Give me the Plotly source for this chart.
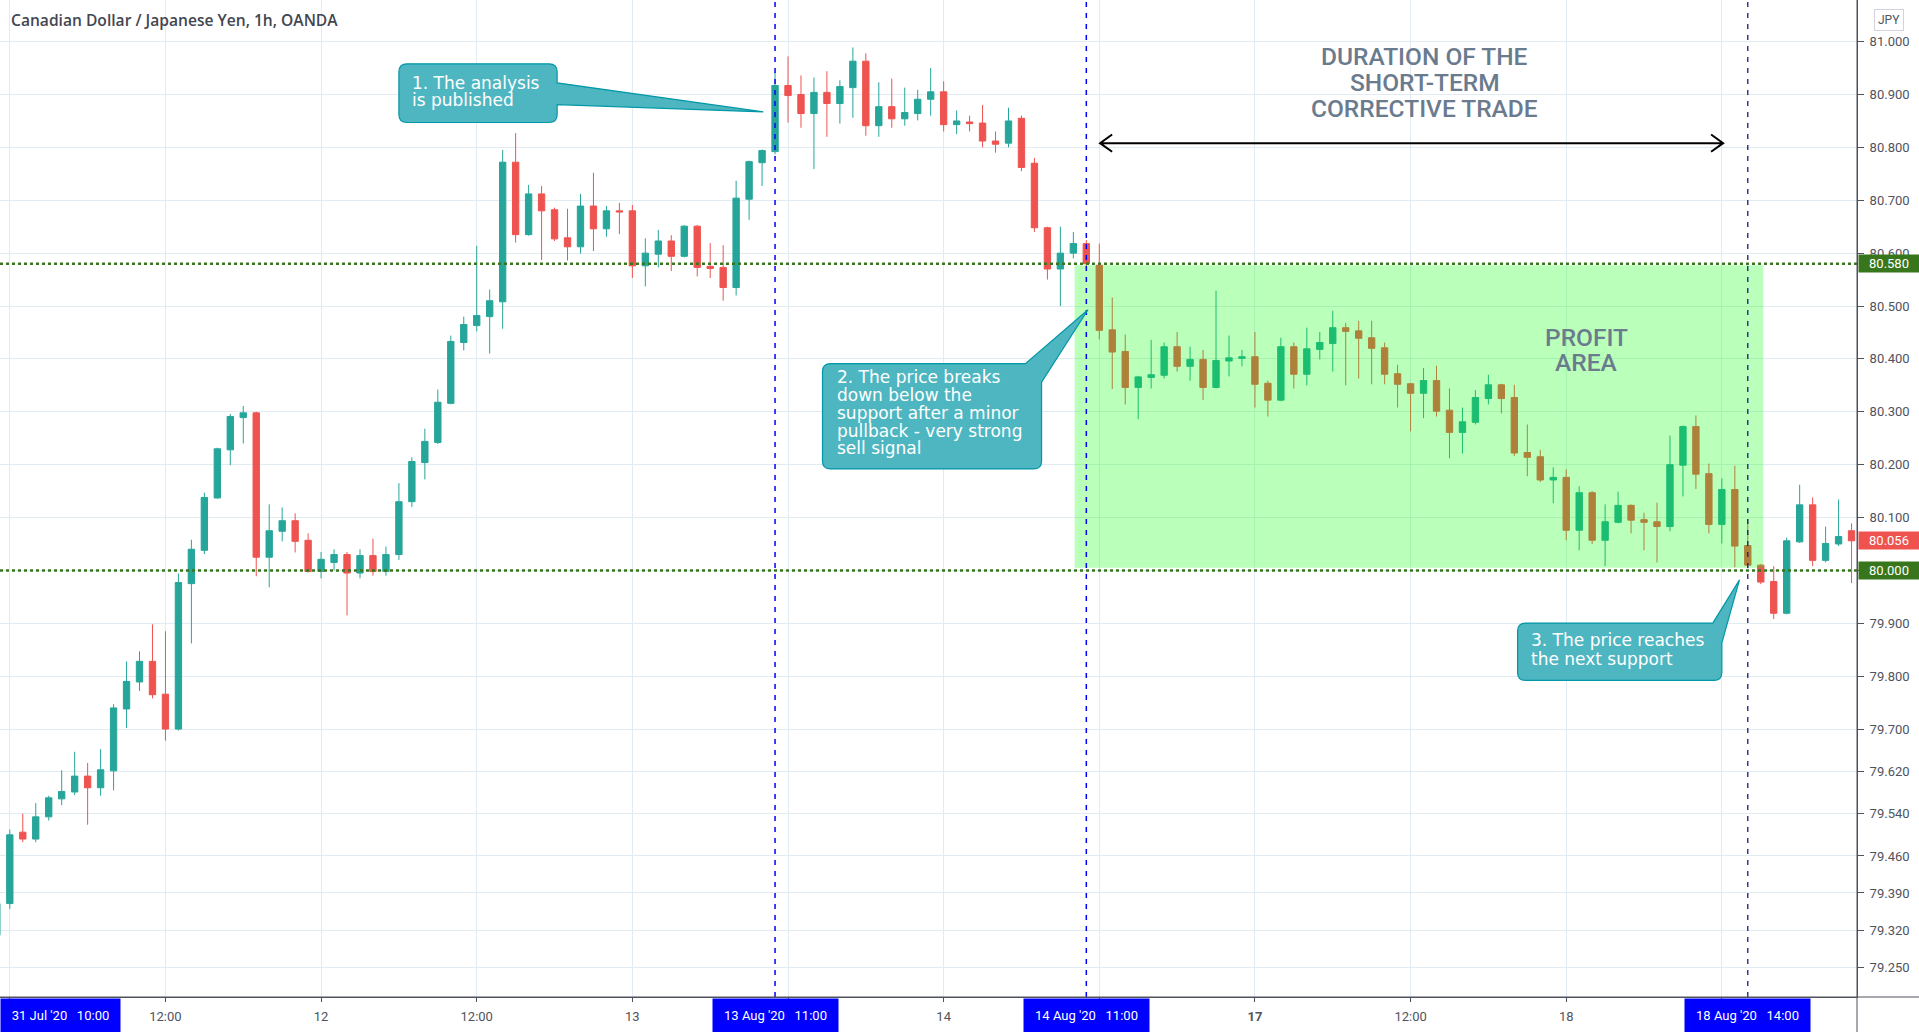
import plotly.graph_objects as go

# ---------------- data (1h candles, index = trading hour from 11 Aug 00:00) ----------------
hours = list(range(-1, 143))

opens = [79.310, 79.370, 79.505, 79.492, 79.534, 79.568, 79.581, 79.611, 79.589, 79.621,
         79.738, 79.789, 79.828, 79.766, 79.700, 79.975, 80.038, 80.137, 80.228, 80.289,
         80.298, 80.025, 80.074, 80.094, 80.057, 79.998, 80.015, 80.030, 79.995, 80.028,
         79.998, 80.030, 80.130, 80.204, 80.242, 80.316, 80.431, 80.463, 80.480, 80.508,
         80.772, 80.635, 80.712, 80.682, 80.629, 80.612, 80.689, 80.646, 80.680, 80.680,
         80.576, 80.598, 80.623, 80.594, 80.651, 80.575, 80.573, 80.535, 80.702, 80.771,
         80.792, 80.917, 80.900, 80.864, 80.904, 80.883, 80.913, 80.963, 80.841, 80.877,
         80.854, 80.864, 80.891, 80.905, 80.843, 80.848, 80.846, 80.812, 80.808, 80.855,
         80.770, 80.648, 80.570, 80.600, 80.618, 80.577, 80.455, 80.414, 80.346, 80.365,
         80.369, 80.423, 80.386, 80.399, 80.346, 80.396, 80.401, 80.404, 80.354, 80.322,
         80.423, 80.371, 80.418, 80.429, 80.459, 80.453, 80.440, 80.421, 80.372, 80.353,
         80.335, 80.359, 80.303, 80.261, 80.280, 80.325, 80.351, 80.327, 80.223, 80.215,
         80.171, 80.176, 80.076, 80.147, 80.057, 80.091, 80.123, 80.096, 80.092, 80.083,
         80.199, 80.272, 80.183, 80.087, 80.153, 80.047, 80.010, 79.979, 79.919, 80.054,
         80.124, 80.019, 80.050, 80.075]

highs = [79.380, 79.510, 79.540, 79.560, 79.574, 79.622, 79.657, 79.636, 79.662, 79.747,
         79.828, 79.847, 79.898, 79.885, 79.994, 80.058, 80.147, 80.232, 80.296, 80.311,
         80.300, 80.125, 80.119, 80.108, 80.070, 80.035, 80.040, 80.035, 80.040, 80.060,
         80.045, 80.165, 80.214, 80.268, 80.342, 80.444, 80.480, 80.614, 80.531, 80.795,
         80.827, 80.729, 80.727, 80.686, 80.684, 80.712, 80.752, 80.689, 80.695, 80.691,
         80.628, 80.644, 80.634, 80.653, 80.653, 80.619, 80.615, 80.737, 80.775, 80.796,
         80.942, 80.972, 80.936, 80.932, 80.944, 80.927, 80.989, 80.978, 80.923, 80.930,
         80.913, 80.909, 80.950, 80.925, 80.870, 80.860, 80.880, 80.830, 80.875, 80.860,
         80.780, 80.650, 80.650, 80.640, 80.625, 80.618, 80.516, 80.446, 80.368, 80.436,
         80.431, 80.451, 80.423, 80.417, 80.529, 80.444, 80.417, 80.451, 80.359, 80.440,
         80.431, 80.459, 80.451, 80.491, 80.468, 80.472, 80.472, 80.431, 80.389, 80.355,
         80.383, 80.387, 80.344, 80.308, 80.341, 80.370, 80.353, 80.351, 80.276, 80.228,
         80.195, 80.191, 80.159, 80.150, 80.125, 80.149, 80.125, 80.109, 80.128, 80.255,
         80.274, 80.293, 80.202, 80.174, 80.198, 80.097, 80.012, 80.008, 80.062, 80.162,
         80.138, 80.083, 80.134, 80.089]

lows = [79.290, 79.360, 79.486, 79.486, 79.527, 79.556, 79.575, 79.519, 79.574, 79.584,
        79.702, 79.772, 79.758, 79.678, 79.697, 79.862, 80.031, 80.136, 80.199, 80.240,
        79.989, 79.968, 80.055, 80.034, 79.996, 79.985, 80.000, 79.915, 79.985, 79.990,
        79.990, 80.020, 80.120, 80.172, 80.239, 80.314, 80.416, 80.452, 80.410, 80.457,
        80.620, 80.633, 80.587, 80.623, 80.586, 80.599, 80.604, 80.631, 80.636, 80.553,
        80.537, 80.573, 80.566, 80.592, 80.556, 80.553, 80.510, 80.520, 80.663, 80.727,
        80.787, 80.847, 80.837, 80.759, 80.820, 80.845, 80.856, 80.822, 80.820, 80.837,
        80.841, 80.851, 80.860, 80.830, 80.825, 80.830, 80.800, 80.790, 80.800, 80.755,
        80.640, 80.550, 80.500, 80.590, 80.570, 80.437, 80.343, 80.314, 80.286, 80.344,
        80.363, 80.376, 80.359, 80.322, 80.344, 80.367, 80.386, 80.308, 80.291, 80.320,
        80.344, 80.350, 80.399, 80.376, 80.350, 80.363, 80.352, 80.352, 80.308, 80.263,
        80.288, 80.291, 80.212, 80.221, 80.276, 80.314, 80.297, 80.216, 80.178, 80.167,
        80.127, 80.057, 80.038, 80.050, 80.008, 80.089, 80.070, 80.038, 80.015, 80.074,
        80.140, 80.154, 80.070, 80.051, 80.006, 80.004, 79.974, 79.908, 79.917, 80.052,
        80.008, 80.015, 80.046, 79.976]

closes = [79.370, 79.500, 79.492, 79.534, 79.570, 79.582, 79.611, 79.589, 79.623, 79.740,
          79.790, 79.828, 79.765, 79.700, 79.977, 80.040, 80.138, 80.230, 80.291, 80.298,
          80.025, 80.075, 80.094, 80.055, 79.998, 80.021, 80.030, 79.995, 80.028, 79.998,
          80.030, 80.130, 80.206, 80.244, 80.318, 80.433, 80.465, 80.482, 80.510, 80.772,
          80.635, 80.712, 80.680, 80.627, 80.612, 80.689, 80.646, 80.680, 80.678, 80.576,
          80.600, 80.623, 80.594, 80.651, 80.573, 80.571, 80.535, 80.704, 80.773, 80.794,
          80.917, 80.898, 80.864, 80.904, 80.883, 80.915, 80.963, 80.841, 80.877, 80.854,
          80.866, 80.891, 80.905, 80.843, 80.850, 80.845, 80.812, 80.806, 80.850, 80.762,
          80.648, 80.570, 80.600, 80.618, 80.580, 80.454, 80.413, 80.346, 80.366, 80.370,
          80.423, 80.386, 80.399, 80.346, 80.397, 80.402, 80.404, 80.352, 80.322, 80.423,
          80.371, 80.419, 80.431, 80.459, 80.452, 80.439, 80.420, 80.371, 80.352, 80.335,
          80.359, 80.301, 80.261, 80.281, 80.327, 80.351, 80.325, 80.222, 80.214, 80.171,
          80.176, 80.076, 80.147, 80.057, 80.092, 80.123, 80.095, 80.091, 80.083, 80.200,
          80.272, 80.182, 80.087, 80.153, 80.046, 80.010, 79.978, 79.919, 80.056, 80.124,
          80.019, 80.051, 80.064, 80.056]

# time axis (gridlines every 12 trading hours; labels under the event boxes are hidden)
time_tick_hours = [0, 12, 24, 36, 48, 60, 72, 84, 96, 108, 120, 132]
time_tick_labels = ["", "12:00", "12", "12:00", "13", "", "14", "",
                    "<b>17</b>", "12:00", "18", ""]

# price axis ticks
price_ticks = [81.0, 80.9, 80.8, 80.7, 80.6, 80.5, 80.4, 80.3, 80.2, 80.1, 80.0,
               79.9, 79.8, 79.7, 79.62, 79.54, 79.46, 79.39, 79.32, 79.25]
price_tick_labels = ["81.000", "80.900", "80.800", "80.700", "80.600", "80.500", "80.400",
                     "80.300", "80.200", "80.100", "", "79.900", "79.800", "79.700",
                     "79.620", "79.540", "79.460", "79.390", "79.320", "79.250"]

# key levels / events
support_levels = [80.58, 80.00]
last_price = 80.056
event_hours = [59, 83, 134]
event_labels = ["13 Aug '20\u00a0\u00a0\u00a011:00", "14 Aug '20\u00a0\u00a0\u00a011:00",
                "18 Aug '20\u00a0\u00a0\u00a014:00"]
left_label = "31 Jul '20\u00a0\u00a0\u00a010:00"

# ---------------- styling ----------------
GRID = "#e1ecf2"
AXIS = "#4f525c"
TXT = "#50535e"
UP = "#26a69a"
DOWN = "#ef5350"
LEVEL = "#38761d"
CALL_FILL = "#4db6c1"
CALL_LINE = "#0097a7"
NOTE = "#6b7b8e"

fig = go.Figure()
fig.add_trace(go.Candlestick(
    x=hours, open=opens, high=highs, low=lows, close=closes,
    increasing=dict(line=dict(color=UP, width=1), fillcolor=UP),
    decreasing=dict(line=dict(color=DOWN, width=1), fillcolor=DOWN),
    hoverinfo="skip", showlegend=False,
))


def rounded_poly(verts, rx, ry):
    n = len(verts)
    parts = []
    for i, (x, y, r) in enumerate(verts):
        px, py, _ = verts[i - 1]
        nx, ny, _ = verts[(i + 1) % n]
        if r:
            def off(ax, ay):
                dx, dy = ax - x, ay - y
                if abs(dy) < 1e-9:
                    return (x + rx * (1 if dx > 0 else -1), y)
                return (x, y + ry * (1 if dy > 0 else -1))
            a = off(px, py)
            b = off(nx, ny)
            parts.append(("L", a))
            parts.append(("Q", (x, y), b))
        else:
            parts.append(("L", (x, y)))
    s = ""
    for k, p in enumerate(parts):
        if p[0] == "L":
            s += ("M" if k == 0 else " L") + f"{p[1][0]:.4f},{p[1][1]:.5f}"
        else:
            s += f" Q{p[1][0]:.4f},{p[1][1]:.5f} {p[2][0]:.4f},{p[2][1]:.5f}"
    return s + " Z"


RX, RY = 0.62, 0.0151
shapes = []
# profit area (drawn above candles => tinted candles)
shapes.append(dict(type="rect", xref="x", yref="y", x0=82.1, x1=135.2, y0=80.005, y1=80.577,
                   fillcolor="rgba(0,255,0,0.27)", line=dict(width=0), layer="above"))
# horizontal support lines
for lv in support_levels:
    shapes.append(dict(type="line", xref="paper", x0=0, x1=1, yref="y", y0=lv, y1=lv,
                       line=dict(color=LEVEL, width=2.5, dash="dot"), layer="above"))
# vertical event lines
for i, h in enumerate(event_hours):
    shapes.append(dict(type="line", xref="x", x0=h, x1=h, yref="paper", y0=0, y1=1,
                       line=dict(color="#0000ff" if i < 2 else "#1a1a80",
                                 width=1.5 if i < 2 else 1.3, dash="5px,6px"),
                       layer="above"))
# double arrow
ay, ax0, ax1, adx, ady = 80.808, 84.06, 132.1, 0.93, 0.0163
shapes.append(dict(type="path", xref="x", yref="y", layer="above",
                   path=(f"M{ax0},{ay} L{ax1},{ay} M{ax0+adx},{ay+ady} L{ax0},{ay} L{ax0+adx},{ay-ady} "
                         f"M{ax1-adx},{ay+ady} L{ax1},{ay} L{ax1-adx},{ay-ady}"),
                   line=dict(color="black", width=2)))
# callout 1
c1 = [(30.0, 80.958, True), (42.2, 80.958, True), (42.2, 80.922, False), (58.1, 80.867, False),
      (42.2, 80.881, False), (42.2, 80.847, True), (30.0, 80.847, True)]
# callout 2
c2 = [(62.66, 80.391, True), (78.3, 80.391, False), (83.13, 80.493, False), (79.55, 80.356, False),
      (79.55, 80.192, True), (62.66, 80.192, True)]
# callout 3
c3 = [(116.25, 79.9005, True), (131.3, 79.9005, False), (133.36, 79.982, False), (132.0, 79.863, False),
      (132.0, 79.792, True), (116.25, 79.792, True)]
for c in (c1, c2, c3):
    shapes.append(dict(type="path", xref="x", yref="y", layer="above", path=rounded_poly(c, RX, RY),
                       fillcolor=CALL_FILL, line=dict(color=CALL_LINE, width=1.2)))
# axis extensions (TradingView frame)
shapes.append(dict(type="line", xref="paper", x0=0, x1=1.04, yref="paper", y0=0, y1=0,
                   line=dict(color=AXIS, width=1)))
shapes.append(dict(type="line", xref="paper", x0=1, x1=1, yref="paper", y0=-0.04, y1=1,
                   line=dict(color=AXIS, width=1)))

ann = []
# title
ann.append(dict(xref="paper", yref="paper", x=0, xshift=9, xanchor="left", y=0.9803, yanchor="middle",
                text="Canadian Dollar / Japanese Yen, 1h, OANDA", showarrow=False,
                font=dict(family="Open Sans", size=15.6, color="#434651", weight=600)))
# JPY button
ann.append(dict(xref="paper", yref="paper", x=1.0172, y=0.9803, xanchor="center", yanchor="middle",
                text="JPY", showarrow=False, bgcolor="white", bordercolor="#d1d4dc", borderwidth=1,
                borderpad=3, font=dict(family="Roboto", size=12, color=TXT)))


# callout texts
def note_lines(x, ys, lines, size=17):
    for yy, t in zip(ys, lines):
        ann.append(dict(xref="x", yref="y", x=x, y=yy, xanchor="left", yanchor="middle", text=t,
                        showarrow=False,
                        font=dict(family="DejaVu Sans", size=size, color="white")))


note_lines(30.85, [80.921, 80.889], ["1. The analysis", "is published"])
note_lines(63.6, [80.366, 80.331, 80.297, 80.264, 80.231],
           ["2. The price breaks", "down below the", "support after a minor",
            "pullback - very strong", "sell signal"])
note_lines(117.1, [79.868, 79.833], ["3. The price reaches", "the next support"])


def title_lines(x, ys, lines):
    for yy, t in zip(ys, lines):
        ann.append(dict(xref="x", yref="y", x=x, y=yy, xanchor="center", yanchor="middle", text=t,
                        showarrow=False, height=22, borderpad=0,
                        font=dict(family="Roboto", size=24.5, color=NOTE, weight=500)))


title_lines(109.1, [80.972, 80.924, 80.875], ["DURATION OF THE", "SHORT-TERM", "CORRECTIVE TRADE"])
title_lines(121.6, [80.442, 80.394], ["PROFIT", "AREA"])

# price-axis labels
for lv, col in [(support_levels[0], LEVEL), (support_levels[1], LEVEL), (last_price, DOWN)]:
    ann.append(dict(xref="paper", x=1, xanchor="left", xshift=1, yref="y", y=lv, yanchor="middle",
                    text=f"{lv:.3f}", showarrow=False, bgcolor=col, width=60, height=17, borderpad=0,
                    font=dict(family="Roboto", size=13, color="white")))
# time-axis event labels
for h, t in zip(event_hours, event_labels):
    ann.append(dict(xref="x", x=h, xanchor="center", yref="paper", y=0, yanchor="top", yshift=-1,
                    text=t, showarrow=False, bgcolor="#0000ff", width=125, height=33, borderpad=0,
                    font=dict(family="Roboto", size=13, color="white")))
ann.append(dict(xref="paper", x=0, xanchor="left", yref="paper", y=0, yanchor="top", yshift=-1,
                text=left_label, showarrow=False, bgcolor="#0000ff", width=119, height=33, borderpad=0,
                font=dict(family="Roboto", size=13, color="white")))

fig.update_layout(
    width=1919, height=1032,
    margin=dict(l=0, r=62, t=0, b=35, pad=0),
    paper_bgcolor="white", plot_bgcolor="white",
    showlegend=False,
    shapes=shapes, annotations=ann,
    boxgap=0.3,
    xaxis=dict(range=[-0.756, 142.42], tickmode="array", tickvals=time_tick_hours,
               ticktext=time_tick_labels, showgrid=True, gridcolor=GRID, gridwidth=1,
               zeroline=False, showline=True, linecolor=AXIS, linewidth=1,
               ticks="outside", ticklen=4, tickcolor=AXIS, ticklabelstandoff=3,
               tickfont=dict(family="Roboto", size=13, color=TXT),
               rangeslider=dict(visible=False), fixedrange=True),
    yaxis=dict(side="right", range=[79.1933, 81.0787], tickmode="array", tickvals=price_ticks,
               ticktext=price_tick_labels, showgrid=True, gridcolor=GRID,
               gridwidth=1, zeroline=False, showline=True, linecolor=AXIS, linewidth=1,
               ticks="outside", ticklen=6, tickcolor=AXIS, ticklabelstandoff=3,
               tickfont=dict(family="Roboto", size=13, color=TXT), fixedrange=True),
)

fig.write_html("out.html", config={"displayModeBar": False},
               post_script="document.body.style.margin='0';document.body.style.overflow='hidden';")
